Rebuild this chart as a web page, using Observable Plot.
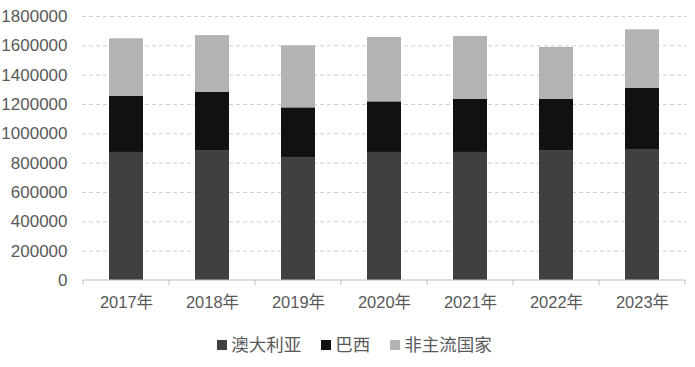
<!DOCTYPE html>
<html><head><meta charset="utf-8">
<script src="https://cdn.jsdelivr.net/npm/d3@7"></script>
<script src="https://cdn.jsdelivr.net/npm/@observablehq/plot@0.6"></script>
<style>
body{margin:0;background:#fff;font-family:"Liberation Sans","Noto Sans CJK SC",sans-serif;}
#legend{display:flex;justify-content:center;gap:20px;font-family:"Noto Sans CJK SC",sans-serif;font-size:17.5px;line-height:22px;color:#595959;margin-top:13px;margin-left:14px;}
#legend span.sw{display:inline-block;width:10px;height:10px;margin-right:4px;vertical-align:middle;position:relative;top:-1px;}
</style></head>
<body><div id="chart"></div><div id="legend"></div>
<script>
const years = ["2017年","2018年","2019年","2020年","2021年","2022年","2023年"];
const seriesNames = ["澳大利亚","巴西","非主流国家"];
const colors = ["#404040","#111111","#b3b3b3"];
const australia = [873000, 886000, 834000, 873000, 873000, 886000, 893000];
const brazil = [382000, 396000, 343000, 345000, 363000, 350000, 416000];
const others = [393000, 388000, 423000, 439000, 428000, 353000, 400000];
const yTicks = [0,200000,400000,600000,800000,1000000,1200000,1400000,1600000,1800000];

const seriesValues = [australia, brazil, others];
const data = [];
seriesNames.forEach((s, si) => years.forEach((y, i) => data.push({year: y, series: s, value: seriesValues[si][i]})));

const boundaryTicks = (index, scales, values, dims) => {
  const x = scales.x, y = scales.y;
  const g = d3.create("svg:g");
  const step = x.step ? x.step() : (dims.width - dims.marginLeft - dims.marginRight) / years.length;
  const bw = x.bandwidth ? x.bandwidth() : 0;
  const pos = years.map(d => x(d) + bw / 2 - step / 2);
  pos.push(x(years[years.length - 1]) + bw / 2 + step / 2);
  const y0 = y(0);
  g.selectAll("line").data(pos).join("line")
    .attr("x1", d => d).attr("x2", d => d)
    .attr("y1", y0).attr("y2", y0 + 5)
    .attr("stroke", "#bfbfbf").attr("stroke-width", 1);
  g.append("line").attr("x1", pos[0]).attr("x2", pos[pos.length-1]).attr("y1", y0).attr("y2", y0)
    .attr("stroke", "#bfbfbf").attr("stroke-width", 1);
  return g.node();
};

const chart = Plot.plot({
  width: 695,
  height: 320,
  marginLeft: 82,
  marginRight: 8,
  marginTop: 16,
  marginBottom: 40,
  style: {fontFamily: '"Liberation Sans","Noto Sans CJK SC",sans-serif', fontSize: "16px", color: "#595959", background: "#fff"},
  x: {domain: years, paddingInner: 0.6, paddingOuter: 0.3, label: null},
  y: {domain: [0, 1800000], label: null},
  color: {domain: seriesNames, range: colors},
  marks: [
    Plot.ruleY(yTicks.filter(d => d > 0), {stroke: "#d0d0d0", strokeDasharray: "4,3", strokeWidth: 1}),
    Plot.barY(data, {x: "year", y: "value", fill: "series", order: seriesNames}),
    Plot.axisY({ticks: yTicks, tickSize: 0, tickPadding: 15, tickFormat: d => String(d), fontSize: 17, fill: "#595959"}),
    Plot.axisX({tickSize: 0, tickPadding: 16, fontSize: 16.5, fill: "#595959"}),
    boundaryTicks
  ]
});
document.getElementById("chart").appendChild(chart);

const legend = document.getElementById("legend");
seriesNames.forEach((s, i) => {
  const item = document.createElement("div");
  item.innerHTML = `<span class="sw" style="background:${colors[i]}"></span>${s}`;
  legend.appendChild(item);
});
</script></body></html>
